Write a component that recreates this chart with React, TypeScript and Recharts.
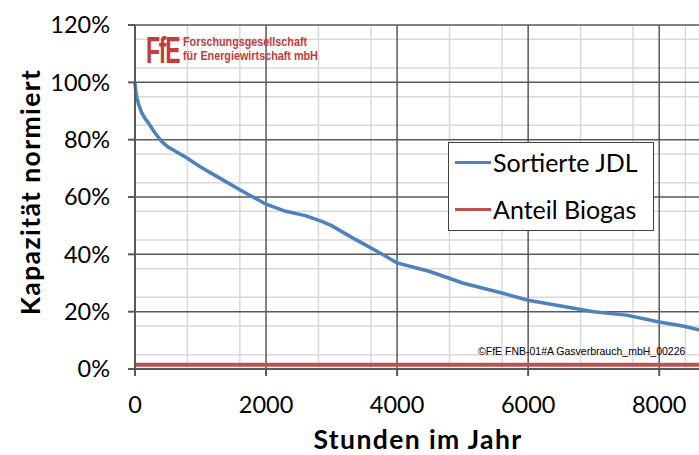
import React from 'react';
import { LineChart, Line, XAxis, YAxis, CartesianGrid, Legend } from 'recharts';

// sorted annual load curve (hours vs. normalised capacity in %)
const hours = [0, 10, 30, 60, 100, 150, 200, 300, 400, 500, 650, 800, 1000, 1300, 1600, 2000, 2300, 2600, 2850, 3000, 3300, 3700, 4000, 4500, 5000, 5600, 6000, 6500, 7000, 7500, 8000, 8400, 8760];
const jdl = [100, 97, 94.5, 92, 89.5, 87.5, 86, 82.5, 79.5, 77.5, 75.5, 73.5, 70.5, 66.5, 62.5, 57.5, 55, 53.5, 51.5, 50, 46, 41, 37, 34, 30, 26.5, 24, 22, 20, 18.8, 16.4, 14.8, 12.8];
const biogas = [1.5, 1.5, 1.5, 1.5, 1.5, 1.5, 1.5, 1.5, 1.5, 1.5, 1.5, 1.5, 1.5, 1.5, 1.5, 1.5, 1.5, 1.5, 1.5, 1.5, 1.5, 1.5, 1.5, 1.5, 1.5, 1.5, 1.5, 1.5, 1.5, 1.5, 1.5, 1.5, 1.5];

const xTicks = [0, 2000, 4000, 6000, 8000];
const yTicks = [0, 20, 40, 60, 80, 100, 120];
const xMinor = [400, 800, 1200, 1600, 2400, 2800, 3200, 3600, 4400, 4800, 5200, 5600, 6400, 6800, 7200, 7600, 8400];
const yMinor = [5, 10, 15, 25, 30, 35, 45, 50, 55, 65, 70, 75, 85, 90, 95, 105, 110, 115];

const data = hours.map((h, i) => ({ h, jdl: jdl[i], biogas: biogas[i] }));

const FONT = 'Lato, "Open Sans", sans-serif';
const AXIS = '#595959';

function HourTick(props: any) {
  const { x, y, payload } = props;
  return (
    <text x={x} y={y + 37} textAnchor="middle" fill="#000" fontSize={23.5} fontFamily={FONT}>
      {payload.value}
    </text>
  );
}

function LegendBox() {
  const rows = [
    { name: 'Sortierte JDL', color: '#4f81bd' },
    { name: 'Anteil Biogas', color: '#c0504d' },
  ];
  return (
    <div style={{ width: 204, height: 87, border: '1.5px solid #404040', background: '#fff', fontFamily: FONT, fontSize: 25, color: '#000' }}>
      {rows.map((r, i) => (
        <div key={r.name} style={{ display: 'flex', alignItems: 'center', height: 28, marginTop: i === 0 ? 5 : 19 }}>
          <div style={{ width: 36, height: 3, background: r.color, marginLeft: 6, marginRight: 2 }} />
          <span>{r.name}</span>
        </div>
      ))}
    </div>
  );
}

export default function App() {
  return (
    <div style={{ position: 'absolute', left: 0, top: 0, width: 699, height: 455, overflow: 'hidden', background: '#fff' }}>
      <LineChart width={709} height={455} data={data} margin={{ top: 25, right: 0, bottom: 0, left: 0 }}>
        <CartesianGrid stroke="#d9d9d9" strokeWidth={1.5} verticalValues={xMinor} horizontalValues={yMinor} />
        <CartesianGrid stroke={AXIS} strokeWidth={1.5} verticalValues={xTicks} horizontalValues={yTicks} />
        <XAxis
          dataKey="h"
          type="number"
          domain={[0, 8760]}
          ticks={xTicks}
          height={86}
          tickSize={7}
          tickMargin={0}
          stroke={AXIS}
          strokeWidth={2}
          tick={<HourTick />}
          label={{ value: 'Stunden im Jahr', position: 'center', dy: 28, dx: -4, fill: '#000', fontSize: 26.5, fontWeight: 700, fontFamily: FONT, letterSpacing: 1.4 }}
        />
        <YAxis
          type="number"
          domain={[0, 120]}
          ticks={yTicks}
          width={135}
          tickSize={7}
          tickMargin={18}
          stroke={AXIS}
          strokeWidth={2}
          tickFormatter={(v: number) => `${v}%`}
          tick={{ fill: '#000', fontSize: 23.5, fontFamily: FONT }}
          label={{ value: 'Kapazität normiert', angle: -90, position: 'center', dx: -37, dy: -5, fill: '#000', fontSize: 26.5, fontWeight: 700, fontFamily: FONT, letterSpacing: 1.4 }}
        />
        <Legend layout="vertical" align="center" verticalAlign="middle" content={<LegendBox />}
          wrapperStyle={{ position: 'absolute', left: 448, top: 142, width: 207, height: 90 }} />
        <Line dataKey="biogas" name="Anteil Biogas" stroke="#c0504d" strokeWidth={4} dot={false} isAnimationActive={false} />
        <Line dataKey="jdl" name="Sortierte JDL" stroke="#4f81bd" strokeWidth={3.5} dot={false} isAnimationActive={false} />
      </LineChart>

      <div style={{ position: 'absolute', left: 146, top: 30, color: '#c43b3b', fontFamily: '"Liberation Sans", Arial, sans-serif', fontWeight: 700, fontSize: 37, transform: 'scaleX(0.62)', transformOrigin: 'left top', letterSpacing: -2 }}>
        FfE
      </div>
      <div style={{ position: 'absolute', left: 183, top: 35, color: '#c43b3b', fontFamily: '"Liberation Sans Narrow", "Liberation Sans", Arial, sans-serif', fontWeight: 700, fontSize: 13, lineHeight: '14px', transform: 'scaleX(0.83)', transformOrigin: 'left top', whiteSpace: 'nowrap' }}>
        <div>Forschungsgesellschaft</div>
        <div>für Energiewirtschaft mbH</div>
      </div>
      <div style={{ position: 'absolute', left: 478, top: 345, color: '#000', fontFamily: '"Liberation Sans", Arial, sans-serif', fontSize: 10.5, whiteSpace: 'nowrap' }}>
        ©FfE FNB-01#A Gasverbrauch_mbH_00226
      </div>
    </div>
  );
}
